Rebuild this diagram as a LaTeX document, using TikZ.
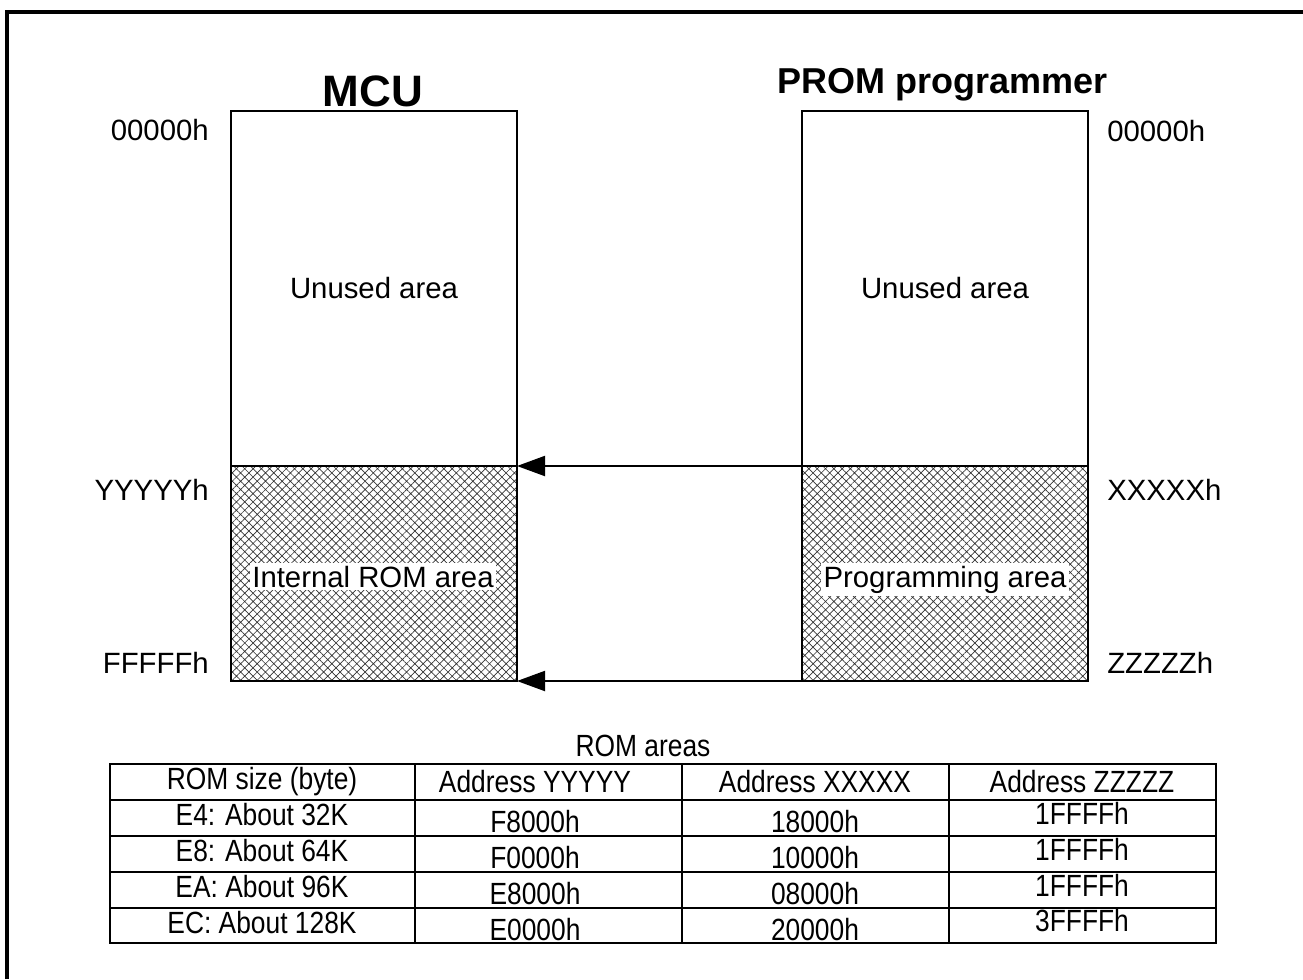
\documentclass[tikz,border=0pt]{standalone}
\usepackage{fontspec}
\setmainfont{Liberation Sans}
\newfontfamily\narrowfont[FakeStretch=0.86]{Liberation Sans}
\usetikzlibrary{patterns.meta,arrows.meta}
\tikzset{
	memline/.style={line width=1.5pt},
	romhatch/.style={pattern={Hatch[angle=45,distance=4.4pt,line width=0.5pt]},pattern color=black!80},
	addr/.style={inner sep=0pt,font=\fontsize{22}{24}\selectfont},
	areatxt/.style={inner sep=0pt,font=\fontsize{22}{24}\selectfont},
	romtxt/.style={fill=white,inner sep=2pt,font=\fontsize{22}{24}\selectfont},
	headtxt/.style={inner sep=0pt,font=\bfseries\fontsize{#1}{#1}\selectfont},
	copyarrow/.style={memline,-{Triangle[length=21pt,width=15pt]}},
	tabtxt/.style={inner sep=0pt,font=\narrowfont\fontsize{23}{25}\selectfont}
}
\begin{document}
\begin{tikzpicture}[x=0.75pt,y=-0.75pt]
	\useasboundingbox (0,0) rectangle (1303,979);
	\draw[line width=3.3pt] (7,979)--(7,12)--(1303,12);
	% memory maps
	\coordinate (mcuTL) at (231,111);\coordinate (mcuS) at (517,466);\coordinate (mcuBR) at (517,681);
	\coordinate (promTL) at (802,111);\coordinate (promS) at (802,466);\coordinate (promBR) at (1088,681);
	\fill[romhatch] (231,466) rectangle (mcuBR);
	\fill[romhatch] (promS) rectangle (promBR);
	\draw[memline] (mcuTL) rectangle (mcuBR) (231,466)--(mcuS);
	\draw[memline] (promTL) rectangle (promBR) (promS)--(1088,466);
	\node[headtxt=33,anchor=base,name=mcu] at (373,106) {MCU};
	\node[headtxt=27,anchor=base,name=prom] at (943,93) {PROM programmer};
	\node[areatxt,name=unA] at (374,288) {Unused area};
	\node[areatxt,name=unB] at (945,288) {Unused area};
	\node[romtxt,anchor=base,name=irom] at (373,587) {Internal ROM area};
	\node[romtxt,anchor=base,name=parea] at (945,587) {Programming area};
	\node[addr,anchor=east,name=a0] at (209,130) {00000h};
	\node[addr,anchor=east,name=ay] at (209,490) {YYYYYh};
	\node[addr,anchor=east,name=af] at (209,663) {FFFFFh};
	\node[addr,anchor=west,name=b0] at (1107,131) {00000h};
	\node[addr,anchor=west,name=bx] at (1107,490) {XXXXXh};
	\node[addr,anchor=west,name=bz] at (1107,663) {ZZZZZh};
	\draw[copyarrow] (promS)--(mcuS);
	\draw[copyarrow] (promS|-promBR)--(mcuBR);
	% table
	\node[tabtxt,name=ttl] at (643,746) {ROM areas};
	\draw[memline] (110,764) rectangle (1216,943);
	\foreach \y in {800,836,872,908}{
		\draw[memline] (110,\y)--(1216,\y);
	};
	\foreach \x in {415,682,949}{
		\draw[memline] (\x,764)--(\x,943);
	};
	\node[tabtxt,name=h1] at (262,782) {ROM size (byte)};
	\node[tabtxt,name=h2] at (535,782) {Address YYYYY};
	\node[tabtxt,name=h3] at (815,782) {Address XXXXX};
	\node[tabtxt,name=h4] at (1082,782) {Address ZZZZZ};
	\foreach \sz/\yy/\xx/\zz [count=\r] in {E4: About 32K/F8000h/18000h/1FFFFh,E8: About 64K/F0000h/10000h/1FFFFh,EA: About 96K/E8000h/08000h/1FFFFh,EC: About 128K/E0000h/20000h/3FFFFh}{
		\node[tabtxt,name=s\r] at (262,{782+36*\r-3}) {\sz};
		\node[tabtxt,name=y\r] at (535,{782+36*\r+4}) {\yy};
		\node[tabtxt,name=x\r] at (815,{782+36*\r+4}) {\xx};
		\node[tabtxt,name=z\r] at (1082,{782+36*\r-5}) {\zz};
	};
\end{tikzpicture}
\end{document}
